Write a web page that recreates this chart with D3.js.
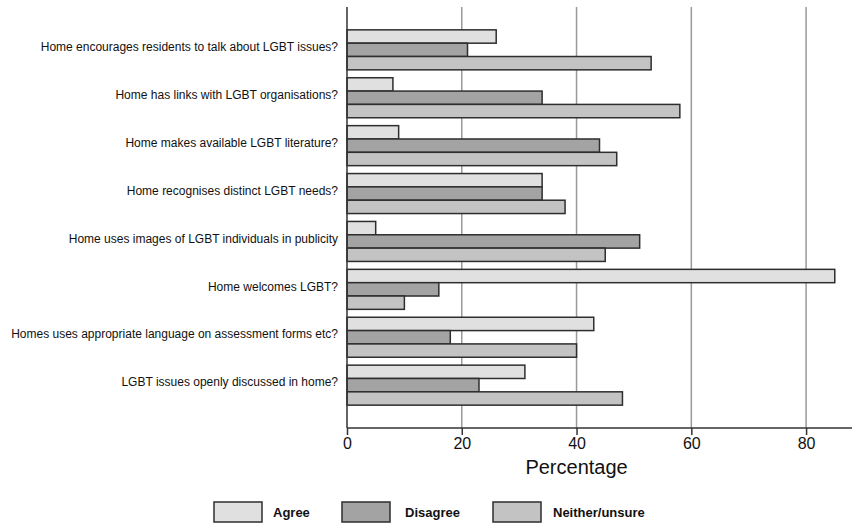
<!DOCTYPE html>
<html>
<head>
<meta charset="utf-8">
<script src="https://cdn.jsdelivr.net/npm/d3@7"></script>
<style>
  body { margin: 0; background: #fff; }
  svg { display: block; font-family: "Liberation Sans", Arial, sans-serif; }
</style>
</head>
<body>
<svg id="chart" width="852" height="524"></svg>
<script>
const categories = [
  "Home encourages residents to talk about LGBT issues?",
  "Home has links with LGBT organisations?",
  "Home makes available LGBT literature?",
  "Home recognises distinct LGBT needs?",
  "Home uses images of LGBT individuals in publicity",
  "Home welcomes LGBT?",
  "Homes uses appropriate language on assessment forms etc?",
  "LGBT issues openly discussed in home?"
];
const seriesNames = ["Agree", "Disagree", "Neither/unsure"];
const agree    = [26, 8, 9, 34, 5, 85, 43, 31];
const disagree = [21, 34, 44, 34, 51, 16, 18, 23];
const neither  = [53, 58, 47, 38, 45, 10, 40, 48];
const xTicks = [0, 20, 40, 60, 80];
const colors = ["#e0e0e0", "#a3a3a3", "#c3c3c3"];

(function () {
const seriesValues = [agree, disagree, neither];
const rows = categories.map((c, i) => ({
  cat: c,
  vals: seriesNames.map((s, j) => ({ series: s, value: seriesValues[j][i] }))
}));

const svg = d3.select("#chart");
const pLeft = 347, pRight = 852, pTop = 7, pBottom = 428;

const x = d3.scaleLinear().domain([0, 88]).range([pLeft, pRight]);
const y = d3.scaleBand().domain(categories).range([pTop, pBottom])
  .paddingInner(0.165).paddingOuter(0.477);
const y1 = d3.scaleBand().domain(seriesNames).range([0, y.bandwidth()]);
const color = d3.scaleOrdinal().domain(seriesNames).range(colors);

// gridlines
svg.append("g").selectAll("line")
  .data(xTicks.filter(d => d > 0))
  .join("line")
  .attr("x1", d => x(d)).attr("x2", d => x(d))
  .attr("y1", pTop).attr("y2", pBottom)
  .attr("stroke", "#9a9a9a").attr("stroke-width", 1.5);

// bars
const g = svg.append("g").selectAll("g")
  .data(rows).join("g")
  .attr("transform", d => `translate(0,${y(d.cat)})`);
g.selectAll("rect")
  .data(d => d.vals).join("rect")
  .attr("x", x(0))
  .attr("y", d => y1(d.series))
  .attr("width", d => x(d.value) - x(0))
  .attr("height", y1.bandwidth())
  .attr("fill", d => color(d.series))
  .attr("stroke", "#2e2e2e").attr("stroke-width", 1.5);

// y axis line
svg.append("line")
  .attr("x1", pLeft).attr("x2", pLeft)
  .attr("y1", pTop).attr("y2", pBottom)
  .attr("stroke", "#333").attr("stroke-width", 1.5);

// category labels
svg.append("g").selectAll("text")
  .data(categories).join("text")
  .attr("x", 338)
  .attr("y", d => y(d) + y.bandwidth() / 2 - 2)
  .attr("text-anchor", "end")
  .attr("dominant-baseline", "middle")
  .attr("font-size", 12)
  .attr("fill", "#111")
  .text(d => d);

// x axis
const xAxis = d3.axisBottom(x).tickValues(xTicks).tickSize(7).tickPadding(3)
  .tickFormat(d3.format("d"));
const ax = svg.append("g").attr("transform", `translate(0,${pBottom})`).call(xAxis);
ax.select(".domain").attr("stroke", "#333").attr("stroke-width", 1.5)
  .attr("d", `M${pLeft},0H${pRight}`);
ax.selectAll(".tick line").attr("stroke", "#333").attr("stroke-width", 1.5);
ax.selectAll(".tick text").attr("font-size", 16).attr("fill", "#111")
  .attr("font-family", "Liberation Sans, Arial, sans-serif");

svg.append("text")
  .attr("x", x(40)).attr("y", 474)
  .attr("text-anchor", "middle")
  .attr("font-size", 20).attr("fill", "#111")
  .text("Percentage");

// legend
const legendX = [214, 342, 493];
const lg = svg.append("g").selectAll("g")
  .data(seriesNames).join("g")
  .attr("transform", (d, i) => `translate(${legendX[i]},502)`);
lg.append("rect")
  .attr("width", 48).attr("height", 20)
  .attr("fill", d => color(d))
  .attr("stroke", "#2e2e2e").attr("stroke-width", 1.5);
lg.append("text")
  .attr("x", (d, i) => [59, 63, 60][i]).attr("y", 15)
  .attr("font-size", 13).attr("font-weight", "bold").attr("fill", "#111")
  .text(d => d);
})();
</script>
</body>
</html>
